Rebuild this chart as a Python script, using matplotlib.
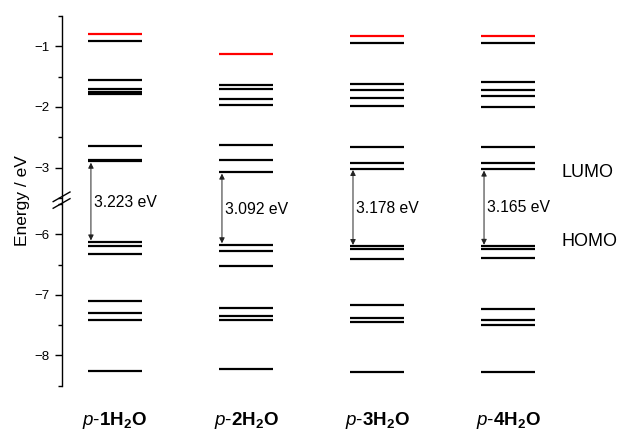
import numpy as np
import matplotlib
matplotlib.use("Agg")
import matplotlib.pyplot as plt
import matplotlib.transforms as mtransforms

plt.rcParams["font.family"] = ["Liberation Sans", "DejaVu Sans"]
plt.rcParams["mathtext.fontset"] = "custom"
plt.rcParams["mathtext.rm"] = "Liberation Sans"
plt.rcParams["mathtext.it"] = "Liberation Sans:italic"
plt.rcParams["mathtext.bf"] = "Liberation Sans:bold"

# orbital energies (eV)
names = [r"$\mathit{p}$-$\mathbf{1H_2O}$", r"$\mathit{p}$-$\mathbf{2H_2O}$",
         r"$\mathit{p}$-$\mathbf{3H_2O}$", r"$\mathit{p}$-$\mathbf{4H_2O}$"]
red_levels = [-0.79, -1.127, -0.835, -0.825]
unocc = [
    [-0.92, -1.557, -1.71, -1.75, -1.79, -2.643, -2.87, -2.90],
    [-1.64, -1.70, -1.876, -1.975, -2.63, -2.87, -3.08],
    [-0.94, -1.63, -1.72, -1.855, -1.99, -2.66, -2.92, -3.02],
    [-0.94, -1.59, -1.72, -1.82, -2.00, -2.66, -2.92, -3.03],
]
occ = [
    [-6.123, -6.19, -6.33, -7.107, -7.306, -7.417, -8.25],
    [-6.17, -6.28, -6.53, -7.21, -7.35, -7.41, -8.22],
    [-6.198, -6.25, -6.41, -7.16, -7.39, -7.45, -8.28],
    [-6.195, -6.25, -6.39, -7.24, -7.42, -7.49, -8.28],
]
gaps = ["3.223 eV", "3.092 eV", "3.178 eV", "3.165 eV"]
gap_text_y = [-5.47, -5.59, -5.57, -5.56]

OFFSET = 1.9


def fwd(y):
    y = np.asarray(y, dtype=float)
    return np.where(y > -4.5, y, y + OFFSET)


def inv(y):
    y = np.asarray(y, dtype=float)
    return np.where(y > -3.575, y, y - OFFSET)


fig = plt.figure(figsize=(6.22, 4.32), dpi=100)
ax = fig.add_axes([0.099, 0.107, 0.901, 0.856])
ax.set_yscale("function", functions=(fwd, inv))

hw = 0.206
for i in range(4):
    for e in unocc[i] + occ[i]:
        ax.plot([i - hw, i + hw], [e, e], color="black", lw=1.6, solid_capstyle="butt")
    ax.plot([i - hw, i + hw], [red_levels[i], red_levels[i]], color="#ff0000", lw=1.6,
            solid_capstyle="butt")
    lumo = min(unocc[i])
    homo = max(occ[i])
    ax.annotate("", xy=(i - 0.183, lumo - 0.02), xytext=(i - 0.183, homo + 0.02),
                arrowprops=dict(arrowstyle="<|-|>", color="#222222", lw=0.7,
                                mutation_scale=8, shrinkA=0, shrinkB=0))
    ax.text(i - 0.16, gap_text_y[i], gaps[i], fontsize=11.3, va="center", ha="left")

ax.set_xlim(-0.407, 3.87)
ax.set_ylim(-8.5, -0.5)
ax.set_yticks([-1, -2, -3, -6, -7, -8])
ax.set_yticks([-0.5, -1.5, -2.5, -3.5, -5.5, -6.5, -7.5, -8.5], minor=True)
ax.tick_params(axis="y", which="major", length=5, width=1, labelsize=9.5, direction="out")
ax.tick_params(axis="y", which="minor", length=3, width=1, direction="out")
ax.set_xticks([])
for s in ["top", "right", "bottom"]:
    ax.spines[s].set_visible(False)
ax.spines["left"].set_linewidth(1)
ax.set_ylabel("Energy / eV", fontsize=12.5, labelpad=3)

# axis break marks
yb = 0.502
for dy in (-0.009, 0.009):
    ax.plot([-0.015, 0.015], [yb + dy - 0.013, yb + dy + 0.013], transform=ax.transAxes,
            color="black", lw=1, clip_on=False)

ax.text(3.41, -3.08, "LUMO", fontsize=13, va="center", ha="left")
ax.text(3.41, -6.12, "HOMO", fontsize=13, va="center", ha="left")

trans = mtransforms.blended_transform_factory(ax.transData, fig.transFigure)
for i, n in enumerate(names):
    ax.text(i, 0.026, n, fontsize=13.5, ha="center", va="center", transform=trans)

fig.savefig("out.png", dpi=100)
